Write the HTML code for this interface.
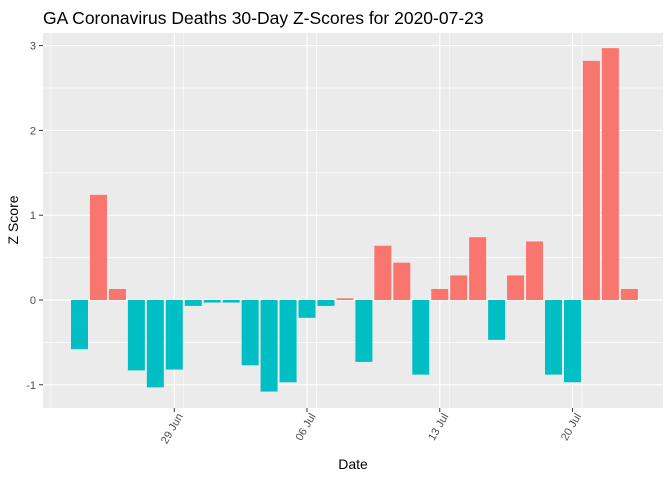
<!DOCTYPE html>
<html><head><meta charset="utf-8"><style>
body{margin:0;background:#fff;font-family:"Liberation Sans",sans-serif}
</style></head><body>
<svg id="chart" width="672" height="480" xmlns="http://www.w3.org/2000/svg">
<text x="43" y="24" font-size="17.5" fill="#000">GA Coronavirus Deaths 30-Day Z-Scores for 2020-07-23</text>
<rect x="43" y="33" width="620" height="375" fill="#ebebeb"/>
<g id="grid"></g><g id="bars"></g><g id="axes"></g>
<text x="353" y="469" font-size="14" text-anchor="middle">Date</text>
<text transform="translate(18,220) rotate(-90)" font-size="14" text-anchor="middle">Z Score</text>
</svg>
<script>
const days = Array.from({length:30},(_,i)=>i); // day offsets from 24 Jun
const values = [-0.58,1.24,0.13,-0.83,-1.03,-0.82,-0.07,-0.03,-0.03,-0.77,-1.08,-0.97,-0.21,-0.07,0.02,-0.73,0.64,0.44,-0.88,0.13,0.29,0.74,-0.47,0.29,0.69,-0.88,-0.97,2.82,2.97,0.13];
const xTickDays = [5,12,19,26];
const xTickLabels = ["29 Jun","06 Jul","13 Jul","20 Jul"];
const yTicks = [-1,0,1,2,3];
const NS="http://www.w3.org/2000/svg";
const x = d => 79.5 + d*18.96;
const y = v => 300 - v*84.8;
function mk(tag,attrs,parent){const e=document.createElementNS(NS,tag);for(const k in attrs)e.setAttribute(k,attrs[k]);parent.appendChild(e);return e;}
const grid=document.getElementById('grid'),bars=document.getElementById('bars'),axes=document.getElementById('axes');
for(let v=-1.5;v<=3.5;v+=1){const yy=y(v);if(yy>33&&yy<408){const l=mk('line',{x1:43,x2:663,y1:yy,y2:yy,stroke:'#fff','stroke-width':0.6},grid);}}
for(let d=-1.5;d<=33;d+=7){const xx=x(d);if(xx>43&&xx<663){const l=mk('line',{x1:xx,x2:xx,y1:33,y2:408,stroke:'#fff','stroke-width':0.6},grid);}}
yTicks.forEach(v=>{const yy=y(v);
const l=mk('line',{x1:43,x2:663,y1:yy,y2:yy,stroke:'#fff','stroke-width':1.2},grid);
const t=mk('line',{x1:39,x2:43,y1:yy,y2:yy,stroke:'#333','stroke-width':1},axes);
const tx=mk('text',{x:36,y:yy+4,'font-size':11,fill:'#4d4d4d','text-anchor':'end'},axes);tx.textContent=v;});
xTickDays.forEach((d,i)=>{const xx=x(d);
const l=mk('line',{x1:xx,x2:xx,y1:33,y2:408,stroke:'#fff','stroke-width':1.2},grid);
const t=mk('line',{x1:xx,x2:xx,y1:408,y2:412,stroke:'#333','stroke-width':1},axes);
const tx=mk('text',{transform:`translate(${xx+9},416) rotate(-60)`,'font-size':11,fill:'#4d4d4d','text-anchor':'end'},axes);tx.textContent=xTickLabels[i];});
days.forEach((d,i)=>{const v=values[i];const y0=y(0),y1=y(v);
const r=mk('rect',{x:x(d)-8.5,width:17,y:Math.min(y0,y1),height:Math.abs(y1-y0),fill:v>0?'#f8766d':'#00bfc4'},bars);
});
</script>
</body></html>
